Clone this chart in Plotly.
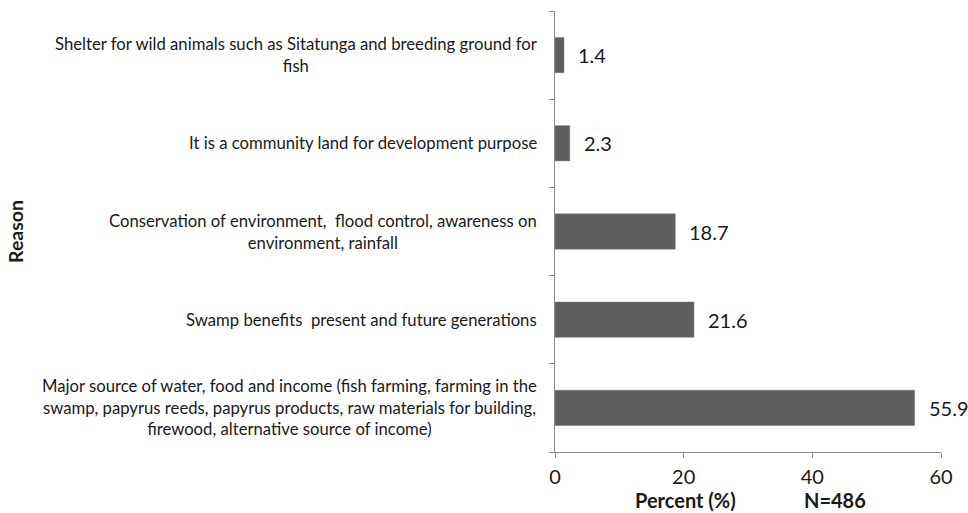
import plotly.graph_objects as go

categories = [
    "Major source of water, food and income (fish farming, farming in the<br>swamp, papyrus reeds, papyrus products, raw materials for building,<br>firewood, alternative source of income)",
    "Swamp benefits  present and future generations",
    "Conservation of environment,  flood control, awareness on<br>environment, rainfall",
    "It is a community land for development purpose",
    "Shelter for wild animals such as Sitatunga and breeding ground for<br>fish",
]
percent = [55.9, 21.6, 18.7, 2.3, 1.4]
x_ticks = [0, 20, 40, 60]

FONT = "Lato"
TXT = "#1a1a1a"
AX = "#8c8c8c"

W, H = 968, 513
L, T = 555, 11
R = W - 941
B = H - 452
pw, ph = W - L - R, H - T - B


def px_to_paper(px, py):
    return (px - L) / pw, (H - B - py) / ph


fig = go.Figure()
fig.add_trace(go.Bar(
    y=categories, x=percent, orientation="h",
    marker=dict(color="#5e5e5e", line=dict(color="#7a7a7a", width=0.5)),
    hoverinfo="x+y",
))

annotations = []
for c, v in zip(categories, percent):
    annotations.append(dict(
        x=0, y=c, xref="x", yref="y", text=c, showarrow=False,
        xanchor="right", yanchor="middle", align="center", xshift=-16,
        font=dict(family=FONT, size=16.7, color=TXT),
    ))
    annotations.append(dict(
        x=v, y=c, xref="x", yref="y", text=f"{v:.1f}", showarrow=False,
        xanchor="left", yanchor="middle", xshift=12,
        font=dict(family=FONT, size=20, color=TXT),
    ))

for text, px, py, size, angle in [
    ("<b>Percent (%)</b>", 685, 500, 20, 0),
    ("<b>N=486</b>", 835, 500, 20, 0),
    ("<b>Reason</b>", 16, 232, 19.5, -90),
]:
    ax_, ay_ = px_to_paper(px, py)
    annotations.append(dict(
        x=ax_, y=ay_, xref="paper", yref="paper", text=text, showarrow=False,
        xanchor="center", yanchor="middle", textangle=angle, borderpad=0,
        font=dict(family=FONT, size=size, color=TXT),
    ))

fig.update_layout(
    width=W, height=H,
    margin=dict(l=L, r=R, t=T, b=B, pad=0),
    plot_bgcolor="white", paper_bgcolor="white",
    bargap=0.6, showlegend=False,
    annotations=annotations,
    font=dict(family=FONT, color=TXT),
    xaxis=dict(
        range=[0, 60], tickvals=x_ticks, ticktext=[str(t) for t in x_ticks],
        showgrid=False, zeroline=False, showline=True, linecolor=AX, linewidth=1,
        ticks="outside", ticklen=5, tickcolor=AX, ticklabelstandoff=2,
        tickfont=dict(family=FONT, size=20, color=TXT),
    ),
    yaxis=dict(
        type="category", showticklabels=False, showgrid=False, zeroline=False,
        showline=True, linecolor=AX, linewidth=1,
        ticks="outside", ticklen=5, tickcolor=AX, tickson="boundaries",
    ),
)

fig.write_html(
    "out.html",
    config={"displayModeBar": False},
    post_script="document.body.style.margin='0';document.body.style.overflow='hidden';",
)
